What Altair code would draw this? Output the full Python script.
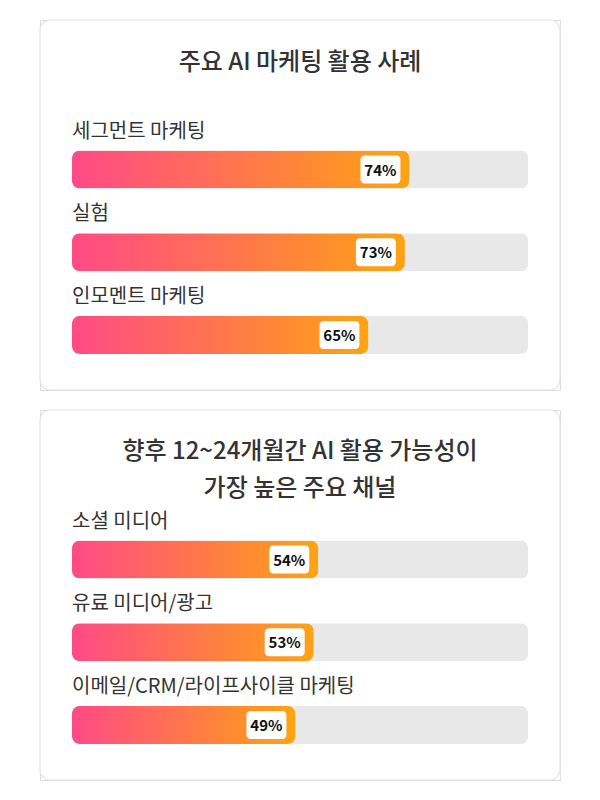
import altair as alt
import pandas as pd

FONT = "Noto Sans CJK KR"

title1 = ["주요 AI 마케팅 활용 사례"]
cats1 = ["세그먼트 마케팅", "실험", "인모멘트 마케팅"]
vals1 = [74, 73, 65]

title2 = ["향후 12~24개월간 AI 활용 가능성이", "가장 높은 주요 채널"]
cats2 = ["소셜 미디어", "유료 미디어/광고", "이메일/CRM/라이프사이클 마케팅"]
vals2 = [54, 53, 49]

GRAD = alt.Gradient(
    gradient="linear", x1=0, x2=1, y1=0, y2=0,
    stops=[alt.GradientStop(color="#ff4a87", offset=0),
           alt.GradientStop(color="#ffa312", offset=1)],
)


def panel(title_lines, cats, vals, title_y):
    df = pd.DataFrame({"cat": cats, "value": vals, "full": [100] * len(cats),
                       "label": [f"{v}%" for v in vals]})
    xs = alt.Scale(domain=[0, 100], range=[32, 488])
    ys = alt.Scale(domain=cats, range=[130.5, 334], paddingInner=0.54, paddingOuter=0)
    x = alt.X("value:Q", scale=xs, axis=None)
    y = alt.Y("cat:N", scale=ys, axis=None, sort=cats)
    one = alt.Chart(pd.DataFrame({"t": [0]}))
    card = one.mark_rect(fill="white", stroke="#e4e4e4", strokeWidth=1.2,
                         cornerRadius=10).encode(
        x=alt.value(0), x2=alt.value("width"), y=alt.value(0), y2=alt.value("height"))
    base = alt.Chart(df)
    track = base.mark_bar(color="#e8e8e8", cornerRadius=7, size=38).encode(
        x=alt.X("full:Q", scale=xs, axis=None), x2=alt.value(32), y=y)
    bar = base.mark_bar(color=GRAD, cornerRadius=8, size=38).encode(
        x=x, x2=alt.value(32), y=y)
    box = base.mark_bar(color="white", cornerRadius=4, size=28,
                        xOffset=-49, x2Offset=-9).encode(
        x=x, x2="value:Q", y=y)
    pct = base.mark_text(font=FONT, fontSize=15, fontWeight="bold", color="#111",
                         align="center", baseline="middle", dx=-29, dy=1).encode(
        x=x, y=y, text="label:N")
    lab = base.mark_text(font=FONT, fontSize=20, color="#333", align="left",
                         baseline="middle", dy=-38).encode(
        x=alt.value(32), y=y, text="cat:N")
    ttl = one.mark_text(font=FONT, fontSize=24, fontWeight=500, color="#333",
                        align="center", baseline="middle", lineHeight=37).encode(
        x=alt.value(260), y=alt.value(title_y), text=alt.value(title_lines))
    return alt.layer(card, track, bar, box, pct, lab, ttl).properties(width=520, height=370)


p1 = panel(title1, cats1, vals1, 43)
p2 = panel(title2, cats2, vals2, 42)

chart = alt.vconcat(p1, p2, spacing=20, bounds="flush").properties(
    padding={"left": 30, "top": 10, "right": 0, "bottom": 0},
).configure_view(
    stroke="transparent"
).configure(background="white")

chart.save("out.html", embed_options={"renderer": "svg", "actions": False})
